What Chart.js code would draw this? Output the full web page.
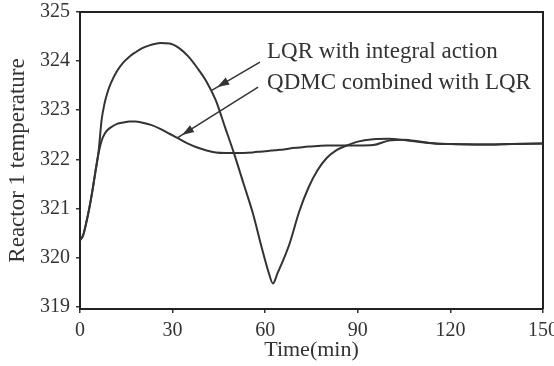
<!DOCTYPE html>
<html>
<head>
<meta charset="utf-8">
<script src="https://cdn.jsdelivr.net/npm/chart.js@4"></script>
<style>
html, body { margin: 0; padding: 0; background: #fff; }
#wrap { width: 554px; height: 366px; }
</style>
</head>
<body>
<div id="wrap"><canvas id="myChart"></canvas></div>
<script>
// sample times (min)
var times = [0, 1, 2, 3, 4, 5, 6, 7, 8, 9, 10, 12, 14, 16, 18, 20, 23, 26, 29, 32, 35, 38, 41, 44, 47, 50,
  53, 56, 59, 61, 62.5, 64, 66, 68, 71, 74, 77, 80, 83, 86, 90, 95, 100, 105, 110, 115, 120, 130, 140, 150];

// LQR with integral action
var lqr = [320.35, 320.45, 320.7, 321.0, 321.35, 321.75, 322.15, 322.8, 323.15, 323.38, 323.55, 323.8, 323.97, 324.09,
  324.18, 324.26, 324.33, 324.37, 324.36, 324.27, 324.1, 323.86, 323.58, 323.2, 322.65, 322.1,
  321.5, 320.9, 320.17, 319.72, 319.47, 319.68, 319.97, 320.3, 320.93, 321.42, 321.78, 322.03, 322.18, 322.27,
  322.36, 322.41, 322.42, 322.39, 322.35, 322.32, 322.31, 322.3, 322.31, 322.32];

// QDMC combined with LQR
var qdmc = [320.35, 320.45, 320.7, 321.0, 321.35, 321.75, 322.12, 322.38, 322.52, 322.6, 322.65, 322.72, 322.75, 322.77,
  322.77, 322.75, 322.7, 322.62, 322.52, 322.42, 322.32, 322.24, 322.18, 322.14, 322.13, 322.13,
  322.13, 322.14, 322.16, 322.17, 322.18, 322.19, 322.2, 322.22, 322.24, 322.26, 322.27, 322.28, 322.28, 322.28,
  322.28, 322.29, 322.38, 322.4, 322.36, 322.32, 322.31, 322.3, 322.31, 322.32];

var xTicks = [0, 30, 60, 90, 120, 150];
var yTicks = [319, 320, 321, 322, 323, 324, 325];

// annotation labels and arrows, in data units
var labels = [
  { text: 'LQR with integral action', t: 60.6, v: 324.06 },
  { text: 'QDMC combined with LQR', t: 60.6, v: 323.43 }
];
var arrows = [
  { from: [58.3, 323.98], to: [42.8, 323.41] },
  { from: [57.7, 323.47], to: [31.4, 322.43] }
];

var ink = '#333';
var serif = '"Liberation Serif", "Times New Roman", serif';

function pts(vals) {
  return vals.map(function (v, i) { return { x: times[i], y: v }; });
}

var frame = {
  id: 'frame',
  beforeDatasetsDraw: function (chart) {
    var a = chart.chartArea, ctx = chart.ctx;
    ctx.save();
    ctx.strokeStyle = '#222';
    ctx.lineWidth = 2;
    ctx.beginPath();
    ctx.moveTo(a.left, a.top);
    ctx.lineTo(a.right, a.top);
    ctx.lineTo(a.right, a.bottom);
    ctx.stroke();
    ctx.restore();
  }
};

var notes = {
  id: 'notes',
  afterDatasetsDraw: function (chart) {
    var ctx = chart.ctx, sx = chart.scales.x, sy = chart.scales.y;
    ctx.save();
    ctx.fillStyle = ink;
    ctx.font = '23px ' + serif;
    ctx.textBaseline = 'alphabetic';
    labels.forEach(function (l) {
      ctx.fillText(l.text, sx.getPixelForValue(l.t), sy.getPixelForValue(l.v));
    });
    ctx.strokeStyle = ink;
    ctx.lineWidth = 1.5;
    arrows.forEach(function (ar) {
      var x1 = sx.getPixelForValue(ar.from[0]), y1 = sy.getPixelForValue(ar.from[1]);
      var x2 = sx.getPixelForValue(ar.to[0]), y2 = sy.getPixelForValue(ar.to[1]);
      ctx.beginPath();
      ctx.moveTo(x1, y1);
      ctx.lineTo(x2, y2);
      ctx.stroke();
      // arrow head a little before the end
      var ang = Math.atan2(y2 - y1, x2 - x1);
      var hx = x2 - 6 * Math.cos(ang), hy = y2 - 6 * Math.sin(ang);
      ctx.beginPath();
      ctx.moveTo(hx, hy);
      ctx.lineTo(hx - 12 * Math.cos(ang) + 4 * Math.sin(ang), hy - 12 * Math.sin(ang) - 4 * Math.cos(ang));
      ctx.lineTo(hx - 12 * Math.cos(ang) - 4 * Math.sin(ang), hy - 12 * Math.sin(ang) + 4 * Math.cos(ang));
      ctx.closePath();
      ctx.fill();
    });
    ctx.restore();
  }
};

var ctx = document.getElementById('myChart').getContext('2d');
var chart = new Chart(ctx, {
  type: 'line',
  data: {
    datasets: [
      { label: 'LQR with integral action', data: pts(lqr) },
      { label: 'QDMC combined with LQR', data: pts(qdmc) }
    ]
  },
  options: {
    responsive: true,
    maintainAspectRatio: false,
    animation: false,
    devicePixelRatio: 1,
    layout: { padding: 0 },
    elements: {
      line: { borderColor: '#333', borderWidth: 2, cubicInterpolationMode: 'monotone', fill: false },
      point: { radius: 0 }
    },
    plugins: {
      legend: { display: false },
      tooltip: { enabled: false }
    },
    scales: {
      x: {
        type: 'linear',
        min: 0,
        max: 150,
        afterBuildTicks: function (s) { s.ticks = xTicks.map(function (v) { return { value: v }; }); },
        afterFit: function (s) { s.height = 57; s.paddingLeft = 0; s.paddingRight = 11; },
        ticks: { color: ink, font: { family: serif, size: 20 }, padding: 6, maxRotation: 0, autoSkip: false },
        grid: { drawOnChartArea: false, tickLength: 4, color: '#333', lineWidth: 1.5 },
        border: { color: '#222', width: 2 },
        title: { display: true, text: 'Time(min)', color: ink, font: { family: serif, size: 22 }, padding: { top: 0, bottom: 3 } }
      },
      y: {
        min: 318.95,
        max: 325,
        afterBuildTicks: function (s) { s.ticks = yTicks.map(function (v) { return { value: v }; }); },
        afterFit: function (s) { s.width = 80; s.paddingTop = 12; s.paddingBottom = 0; },
        ticks: { color: ink, font: { family: serif, size: 20 }, padding: 6 },
        grid: { drawOnChartArea: false, tickLength: 4, color: '#333', lineWidth: 1.5 },
        border: { color: '#222', width: 2 },
        title: { display: true, text: 'Reactor 1 temperature', color: ink, font: { family: serif, size: 23 }, padding: { top: 4, bottom: 0 } }
      }
    }
  },
  plugins: [frame, notes]
});
</script>
</body>
</html>
